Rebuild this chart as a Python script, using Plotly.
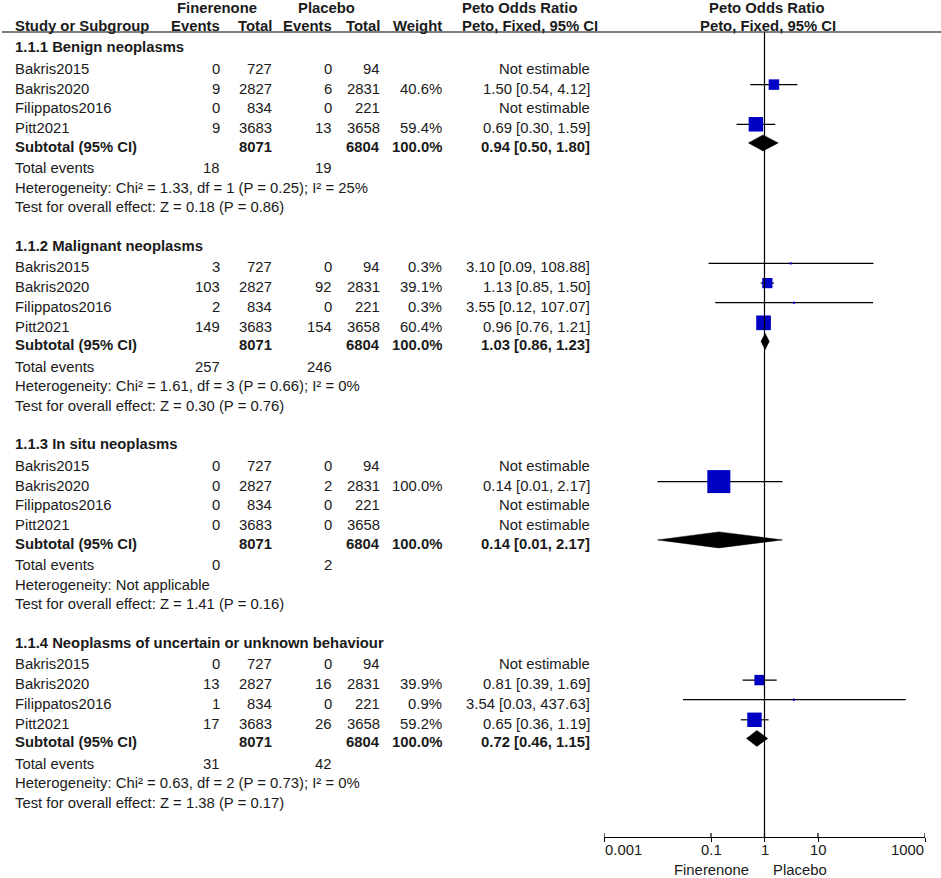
import math
import plotly.graph_objects as go

# ---------------- data ----------------
studies = ["Bakris2015", "Bakris2020", "Filippatos2016", "Pitt2021"]
fin_total = [727, 2827, 834, 3683]
pla_total = [94, 2831, 221, 3658]
sub_fin_total = 8071
sub_pla_total = 6804

group_names = ["1.1.1 Benign neoplasms", "1.1.2 Malignant neoplasms",
               "1.1.3 In situ neoplasms", "1.1.4 Neoplasms of uncertain or unknown behaviour"]

fin_events = [[0, 9, 0, 9], [3, 103, 2, 149], [0, 0, 0, 0], [0, 13, 1, 17]]
pla_events = [[0, 6, 0, 13], [0, 92, 0, 154], [0, 2, 0, 0], [0, 16, 0, 26]]
weights = [[None, 40.6, None, 59.4], [0.3, 39.1, 0.3, 60.4],
           [None, 100.0, None, None], [None, 39.9, 0.9, 59.2]]
odds = [[None, 1.50, None, 0.69], [3.10, 1.13, 3.55, 0.96],
        [None, 0.14, None, None], [None, 0.81, 3.54, 0.65]]
ci_lo = [[None, 0.54, None, 0.30], [0.09, 0.85, 0.12, 0.76],
         [None, 0.01, None, None], [None, 0.39, 0.03, 0.36]]
ci_hi = [[None, 4.12, None, 1.59], [108.88, 1.50, 107.07, 1.21],
         [None, 2.17, None, None], [None, 1.69, 437.63, 1.19]]

sub_or = [0.94, 1.03, 0.14, 0.72]
sub_lo = [0.50, 0.86, 0.01, 0.46]
sub_hi = [1.80, 1.23, 2.17, 1.15]
tot_fin = [18, 257, 0, 31]
tot_pla = [19, 246, 2, 42]
heterogeneity = ["Heterogeneity: Chi² = 1.33, df = 1 (P = 0.25); I² = 25%",
                 "Heterogeneity: Chi² = 1.61, df = 3 (P = 0.66); I² = 0%",
                 "Heterogeneity: Not applicable",
                 "Heterogeneity: Chi² = 0.63, df = 2 (P = 0.73); I² = 0%"]
overall = ["Test for overall effect: Z = 0.18 (P = 0.86)",
           "Test for overall effect: Z = 0.30 (P = 0.76)",
           "Test for overall effect: Z = 1.41 (P = 0.16)",
           "Test for overall effect: Z = 1.38 (P = 0.17)"]

tick_vals = [0.001, 0.1, 1, 10, 1000]
tick_text = ["0.001", "0.1", "1", "10", "1000"]

# ---------------- layout constants ----------------
W, H = 941, 878
AXIS_Y = 837
FONT = "Liberation Sans, Arial, sans-serif"
FS = 14.85
TXT = "#1a1a1a"
BLUE = "#0000C4"
G0, GSTEP = 47.3, 198.5
ROW_OFF = [0, 21.6, 41.3, 60.9, 81.0, 99.6, 120.8, 140.3, 160.1]
MK_OFF = -4.0
X_NAME, X_FE, X_FT, X_PE, X_PT, X_W, X_CI = 14, 221, 273, 333, 381, 443, 591

annotations = []


def ann(text, px, py, anchor="right", bold=False, yref="y"):
    annotations.append(dict(
        text=f"<b>{text}</b>" if bold else text,
        x=px / W, xref="paper", y=py, yref=yref,
        xanchor=anchor, yanchor="middle", showarrow=False, borderpad=0,
        font=dict(family=FONT, size=FS, color=TXT)))


# headers
ann("Finerenone", 217, 8, "center", True)
ann("Placebo", 326, 8, "center", True)
ann("Peto Odds Ratio", 519, 8, "center", True)
ann("Peto Odds Ratio", 766, 8, "center", True)
ann("Study or Subgroup", X_NAME, 26, "left", True)
ann("Events", X_FE, 26, "right", True)
ann("Total", X_FT, 26, "right", True)
ann("Events", X_PE, 26, "right", True)
ann("Total", X_PT, 26, "right", True)
ann("Weight", X_W, 26, "right", True)
ann("Peto, Fixed, 95% CI", 530, 26, "center", True)
ann("Peto, Fixed, 95% CI", 768, 26, "center", True)

ci_x, ci_y = [], []
sq_x, sq_y, sq_s = [], [], []
dia_x, dia_y = [], []

for g in range(4):
    base = G0 + GSTEP * g
    ys = [base + o for o in ROW_OFF]
    ann(group_names[g], X_NAME, ys[0], "left", True)
    for i, name in enumerate(studies):
        y = ys[1 + i]
        ann(name, X_NAME, y, "left")
        ann(str(fin_events[g][i]), X_FE, y)
        ann(str(fin_total[i]), X_FT, y)
        ann(str(pla_events[g][i]), X_PE, y)
        ann(str(pla_total[i]), X_PT, y)
        w = weights[g][i]
        if w is None:
            ann("Not estimable", X_CI, y)
        else:
            ann(f"{w:.1f}%", X_W, y)
            ann(f"{odds[g][i]:.2f} [{ci_lo[g][i]:.2f}, {ci_hi[g][i]:.2f}]", X_CI, y)
            my = y + MK_OFF
            ci_x += [ci_lo[g][i], ci_hi[g][i], None]
            ci_y += [my, my, None]
            sq_x.append(odds[g][i])
            sq_y.append(my)
            sq_s.append(2 + 0.21 * w)
    ys_ = ys[5]
    ann("Subtotal (95% CI)", X_NAME, ys_, "left", True)
    ann(str(sub_fin_total), X_FT, ys_, "right", True)
    ann(str(sub_pla_total), X_PT, ys_, "right", True)
    ann("100.0%", X_W, ys_, "right", True)
    ann(f"{sub_or[g]:.2f} [{sub_lo[g]:.2f}, {sub_hi[g]:.2f}]", X_CI, ys_, "right", True)
    dy = ys_ + MK_OFF
    dia_x += [sub_lo[g], sub_or[g], sub_hi[g], sub_or[g], sub_lo[g], None]
    dia_y += [dy, dy - 8, dy, dy + 8, dy, None]
    ann("Total events", X_NAME, ys[6], "left")
    ann(str(tot_fin[g]), X_FE, ys[6])
    ann(str(tot_pla[g]), X_PE, ys[6])
    ann(heterogeneity[g], X_NAME, ys[7], "left")
    ann(overall[g], X_NAME, ys[8], "left")

# axis side labels
ann("Finerenone", 750, (H - 870) / H, "right", yref="paper")
ann("Placebo", 772, (H - 870) / H, "left", yref="paper")

# tick labels placed on the log axis (end labels aligned inward, as in the reference)
for k, (tv, tt) in enumerate(zip(tick_vals, tick_text)):
    anchor = "left" if k == 0 else ("right" if k == len(tick_vals) - 1 else "center")
    annotations.append(dict(
        text=tt, x=math.log10(tv), xref="x", y=(H - 850) / H, yref="paper",
        xanchor=anchor, yanchor="middle", showarrow=False, borderpad=0,
        font=dict(family=FONT, size=FS, color=TXT)))

fig = go.Figure()
fig.add_trace(go.Scatter(x=ci_x, y=ci_y, mode="lines",
                         line=dict(color="black", width=1.2), hoverinfo="skip"))
fig.add_trace(go.Scatter(x=dia_x, y=dia_y, mode="lines", fill="toself",
                         fillcolor="black", line=dict(color="black", width=0.5),
                         hoverinfo="skip"))
fig.add_trace(go.Scatter(x=sq_x, y=sq_y, mode="markers",
                         marker=dict(symbol="square", size=sq_s, color=BLUE,
                                     opacity=1, line=dict(width=0)),
                         hoverinfo="skip"))

shapes = [
    dict(type="line", xref="paper", yref="y", x0=2 / W, x1=1, y0=32, y1=32,
         line=dict(color="black", width=1.2)),
    dict(type="line", xref="x", yref="y", x0=1, x1=1, y0=32, y1=AXIS_Y,
         line=dict(color="black", width=1.2)),
]
for tv in tick_vals:
    shapes.append(dict(type="line", xref="x", yref="y", x0=tv, x1=tv,
                       y0=AXIS_Y - 4, y1=AXIS_Y, line=dict(color="black", width=1.2)))

fig.update_layout(
    width=W, height=H, margin=dict(l=0, r=0, t=0, b=0, autoexpand=False),
    paper_bgcolor="white", plot_bgcolor="white", showlegend=False,
    annotations=annotations, shapes=shapes,
    xaxis=dict(type="log", range=[-3, 3], domain=[604 / W, 925 / W],
               showline=True, linecolor="black", linewidth=1.2,
               ticks="outside", ticklen=4, tickwidth=1.2, tickcolor="black",
               tickvals=tick_vals, showticklabels=False, showgrid=False,
               zeroline=False),
    yaxis=dict(range=[AXIS_Y, 0], domain=[(H - AXIS_Y) / H, 1], visible=False,
               showgrid=False, zeroline=False),
)

fig.write_html("out.html", config={"displayModeBar": False},
               post_script="document.body.style.margin='0px';document.body.style.overflow='hidden';")
